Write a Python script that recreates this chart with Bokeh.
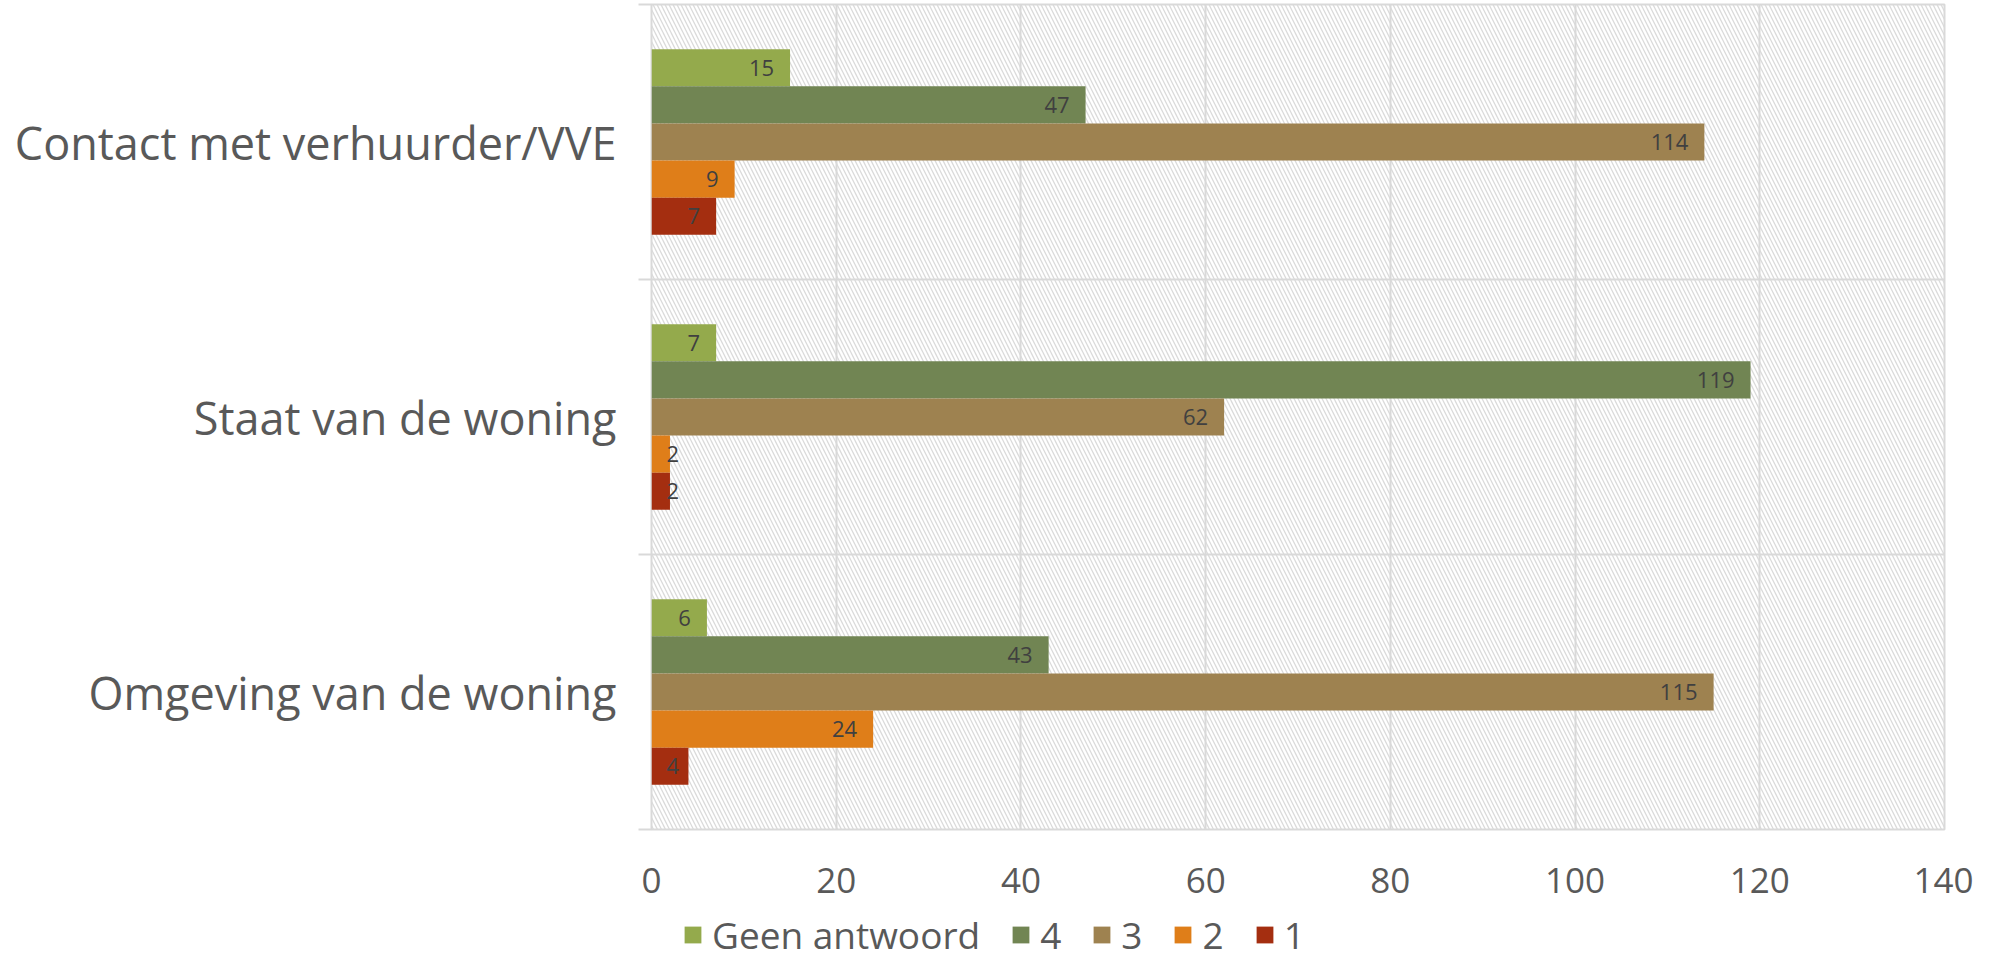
from bokeh.plotting import figure
from bokeh.layouts import column
from bokeh.models import (Range1d, FixedTicker, BoxAnnotation, Legend, LegendItem,
                          ColumnDataSource)
from bokeh.transform import dodge
from bokeh.embed import file_html
from bokeh.resources import INLINE
from bokeh.core.properties import value

# ---------------- data ----------------
categories = ["Contact met verhuurder/VVE", "Staat van de woning", "Omgeving van de woning"]
series_names = ["Geen antwoord", "4", "3", "2", "1"]
geen_antwoord = [15, 7, 6]
score_4 = [47, 119, 43]
score_3 = [114, 62, 115]
score_2 = [9, 2, 24]
score_1 = [7, 2, 4]
x_ticks = [0, 20, 40, 60, 80, 100, 120, 140]

series_values = [geen_antwoord, score_4, score_3, score_2, score_1]
colors = ["#94AA4C", "#718553", "#9E8250", "#DF7E19", "#A42E10"]

# ---------------- style ----------------
FONT = "Open Sans"
TEXT_GREY = "#595959"
GRID_GREY = "#D9D9D9"
BAR_H = 0.135
FRAME_W, FRAME_H = 1293, 825
X_MAX = 140
N = len(categories)
TOTAL_W = 1973
TOP, BOTTOM = 4, 80
LEGEND_H = 960 - TOP - FRAME_H - BOTTOM

# category slots: first category at the top
cat_center = [N - 0.5 - k for k in range(N)]
boundaries = list(range(N + 1))

p = figure(
    y_range=Range1d(0, N),
    x_range=Range1d(0, X_MAX),
    frame_width=FRAME_W, frame_height=FRAME_H,
    min_border_left=651, min_border_right=TOTAL_W - 651 - FRAME_W,
    min_border_top=TOP, min_border_bottom=BOTTOM,
    output_backend="svg", toolbar_location=None,
    background_fill_color="white", border_fill_color="white",
)

# hatched plot-area background
hatch = BoxAnnotation(left=0, right=X_MAX, bottom=0, top=N,
                      fill_alpha=0, line_color=None,
                      hatch_pattern="\\", hatch_color="#DADADA", hatch_scale=8, hatch_weight=1.3,
                      level="image")
p.add_layout(hatch)

# grids
p.xgrid.ticker = FixedTicker(ticks=x_ticks)
p.xgrid.grid_line_color = GRID_GREY
p.xgrid.grid_line_width = 2
p.ygrid.ticker = FixedTicker(ticks=boundaries[1:-1])
p.ygrid.grid_line_color = GRID_GREY
p.ygrid.grid_line_width = 2
p.outline_line_color = GRID_GREY
p.outline_line_width = 2

# x axis
p.xaxis.ticker = FixedTicker(ticks=x_ticks)
p.xaxis.axis_line_color = None
p.xaxis.major_tick_line_color = None
p.xaxis.minor_tick_line_color = None
p.xaxis.major_label_text_font = FONT
p.xaxis.major_label_text_font_size = "35px"
p.xaxis.major_label_text_color = TEXT_GREY
p.xaxis.major_label_standoff = 32

# category axis: labels at slot centres, short outside ticks at slot boundaries
p.yaxis.ticker = FixedTicker(ticks=cat_center, minor_ticks=boundaries)
p.yaxis.major_label_overrides = {c: name for c, name in zip(cat_center, categories)}
p.yaxis.axis_line_color = None
p.yaxis.major_tick_line_color = None
p.yaxis.minor_tick_line_color = GRID_GREY
p.yaxis.minor_tick_line_width = 2
p.yaxis.minor_tick_out = 13
p.yaxis.minor_tick_in = 0
p.yaxis.major_tick_out = 0
p.yaxis.major_label_text_font = FONT
p.yaxis.major_label_text_font_size = "45px"
p.yaxis.major_label_text_color = TEXT_GREY
p.yaxis.major_label_standoff = 22

# bars + labels
px_per_unit = FRAME_W / X_MAX
for i, (name, vals, color) in enumerate(zip(series_names, series_values, colors)):
    off = (2 - i) * BAR_H
    src = ColumnDataSource(dict(yc=cat_center, val=vals))
    p.hbar(y=dodge("yc", off), left=0, right="val", height=BAR_H,
           fill_color=color, line_color=None, source=src)

    big = [(c, v) for c, v in zip(cat_center, vals) if v * px_per_unit >= len(str(v)) * 13 + 31]
    small = [(c, v) for c, v in zip(cat_center, vals) if v * px_per_unit < len(str(v)) * 13 + 31]
    if big:
        s = ColumnDataSource(dict(yc=[b[0] for b in big], val=[b[1] for b in big],
                                  txt=[str(b[1]) for b in big]))
        p.text(x="val", y=dodge("yc", off), text="txt", source=s,
               text_align="right", text_baseline="middle", x_offset=-16,
               text_font=value(FONT), text_font_size="22px", text_color="#404040")
    if small:
        s = ColumnDataSource(dict(yc=[b[0] for b in small], zero=[0] * len(small),
                                  txt=[str(b[1]) for b in small]))
        p.text(x="zero", y=dodge("yc", off), text="txt", source=s,
               text_align="left", text_baseline="middle", x_offset=15,
               text_font=value(FONT), text_font_size="22px", text_color="#404040")

# ---------------- legend strip (frame aligned with the chart frame) ----------------
lg = figure(width=TOTAL_W, height=LEGEND_H, x_range=Range1d(0, 1), y_range=Range1d(0, 1),
            min_border=0, x_axis_location=None, y_axis_location=None,
            output_backend="svg", toolbar_location=None, outline_line_color=None,
            background_fill_color="white", border_fill_color="white")
lg.xgrid.visible = False
lg.ygrid.visible = False
items = []
for name, color in zip(series_names, colors):
    # zero-length swatch renderer: only feeds the legend its colour
    r = lg.hbar(y=[0.5], left=[0], right=[0], height=0.1, fill_color=color, line_color=None)
    items.append(LegendItem(label=name, renderers=[r]))

legend = Legend(items=items, orientation="horizontal", location=(31, 0),
                glyph_width=21, glyph_height=21, label_standoff=9, spacing=30,
                padding=0, margin=0, border_line_color=None, background_fill_alpha=0,
                label_text_font=FONT, label_text_font_size="37px", label_text_color=TEXT_GREY)
lg.add_layout(legend)

layout = column(p, lg, spacing=0)
open("out.html", "w").write(file_html(layout, INLINE))
